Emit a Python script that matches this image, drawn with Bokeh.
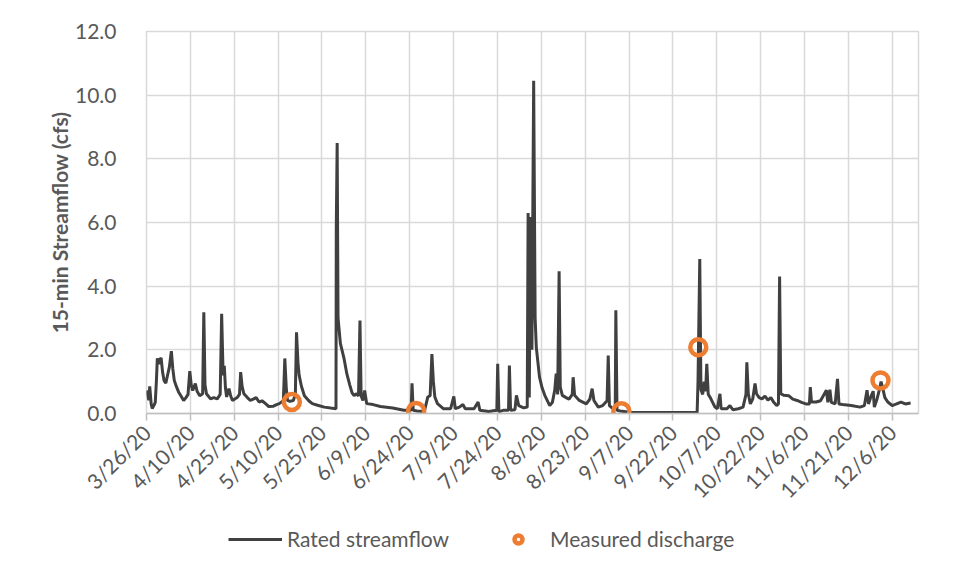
import math
from bokeh.plotting import figure
from bokeh.layouts import column
from bokeh.models import (Range1d, FixedTicker, NumeralTickFormatter, Legend, LegendItem)
from bokeh.embed import file_html
from bokeh.resources import INLINE

# ---- data (days since 3/26/20, streamflow in cfs) ----
DAY = [0.0, 0.5, 0.8, 1.1, 1.6, 1.95, 2.5, 3.0, 3.4, 3.7, 4.2, 4.6, 5.0, 5.5, 6.0, 6.6, 7.2, 7.8,
       8.5, 9.0, 9.5, 10.2, 11.0, 11.8, 12.7, 13.5, 14.2, 14.8, 15.3, 15.8, 16.7, 17.3, 18.2, 19.2,
       19.6, 20.0, 20.5, 21.9, 23.0, 24.2, 25.2, 25.7, 26.2, 26.6, 27.0, 27.4, 28.2, 28.8, 29.4,
       31.0, 31.8, 32.2, 32.7, 33.3, 34.5, 35.5, 36.5, 37.5, 38.5, 39.5, 40.8, 41.8, 43.4, 44.5,
       45.4, 46.8, 47.3, 47.8, 48.2, 49.0, 50.2, 50.9, 51.3, 51.8, 52.2, 53.0, 54.0, 55.5, 56.7,
       58.5, 60.8, 63.0, 64.8, 64.9, 65.2, 65.5, 66.3, 67.5, 68.5, 69.5, 70.3, 71.0, 71.8, 72.5,
       73.0, 73.4, 74.0, 74.6, 75.3, 77.5, 80.0, 84.2, 88.0, 90.5, 90.8, 91.2, 92.5, 95.0, 96.2,
       97.0, 97.6, 98.1, 98.6, 99.5, 101.5, 104.0, 105.1, 105.6, 107.0, 108.2, 109.0, 112.0, 113.4,
       114.0, 117.0, 119.8, 120.1, 120.5, 122.0, 123.8, 124.1, 124.5, 126.0, 126.5, 127.3, 129.0,
       130.2, 130.5, 130.9, 131.3, 131.8, 132.4, 132.9, 133.3, 134.4, 135.3, 136.2, 137.9, 138.8,
       139.6, 140.1, 140.6, 141.1, 141.5, 142.2, 143.5, 144.5, 145.6, 145.9, 146.4, 148.0, 150.4,
       151.6, 152.4, 153.0, 154.5, 156.0, 157.5, 157.9, 158.3, 159.5, 160.3, 160.5, 160.9, 162.0,
       164.6, 166.0, 175.0, 188.3, 188.6, 189.2, 189.6, 190.2, 190.7, 191.2, 191.6, 192.1, 192.8,
       194.4, 195.2, 196.1, 196.5, 198.5, 199.5, 200.5, 202.4, 204.0, 205.0, 205.3, 205.8, 206.5,
       207.3, 208.1, 208.6, 209.5, 210.5, 211.5, 212.5, 213.5, 214.5, 215.5, 216.1, 216.5, 216.9,
       218.0, 219.6, 221.0, 222.5, 224.0, 225.5, 226.7, 227.0, 227.4, 229.0, 230.5, 232.5, 233.0,
       233.7, 234.2, 235.5, 236.3, 236.8, 238.0, 241.0, 244.0, 245.5, 246.4, 246.9, 247.8, 248.5,
       248.9, 249.8, 250.5, 251.2, 251.8, 252.5, 253.5, 255.0, 256.5, 258.0, 259.5, 261.3]
FLOW = [0.72, 0.55, 0.42, 0.85, 0.30, 0.16, 0.25, 0.35, 1.05, 1.73, 1.55, 1.70, 1.75, 1.30, 1.04, 0.95, 1.20, 1.45,
        1.96, 1.40, 1.04, 0.85, 0.67, 0.55, 0.41, 0.50, 0.60, 1.33, 0.90, 0.72, 0.94, 0.70, 0.56, 0.62,
        3.18, 0.90, 0.62, 0.46, 0.50, 0.46, 0.60, 3.13, 1.20, 1.50, 0.80, 0.52, 0.78, 0.55, 0.41,
        0.50, 0.60, 1.30, 0.85, 0.62, 0.50, 0.41, 0.45, 0.50, 0.36, 0.40, 0.30, 0.22, 0.23, 0.28,
        0.31, 0.40, 1.73, 0.80, 0.41, 0.38, 0.41, 0.60, 2.55, 1.60, 1.20, 0.85, 0.56, 0.40, 0.31,
        0.26, 0.20, 0.17, 0.15, 5.80, 8.50, 3.00, 2.20, 1.75, 1.25, 0.90, 0.65, 0.56, 0.62, 0.55,
        2.92, 0.55, 0.41, 0.72, 0.31, 0.28, 0.22, 0.17, 0.10, 0.10, 0.95, 0.10, 0.08, 0.06, 0.52,
        0.56, 1.87, 1.00, 0.52, 0.31, 0.15, 0.15, 0.54, 0.15, 0.20, 0.28, 0.15, 0.15, 0.36,
        0.10, 0.06, 0.10, 1.56, 0.06, 0.10, 0.10, 1.51, 0.10, 0.12, 0.57, 0.25, 0.18,
        0.20, 6.30, 0.50, 6.17, 2.00, 10.45, 3.00, 2.08, 1.14, 0.80, 0.57, 0.25, 0.35,
        0.73, 1.25, 0.60, 4.47, 0.83, 0.57, 0.50, 0.45, 0.60, 1.14, 0.57, 0.41, 0.30,
        0.45, 0.78, 0.41, 0.20, 0.25, 0.40, 1.82, 0.25, 0.15, 0.20, 3.24, 0.10, 0.08,
        0.05, 0.03, 0.03, 0.03, 1.00, 4.85, 0.75, 0.60, 1.00, 0.70, 1.56, 0.60, 0.50,
        0.20, 0.15, 0.62, 0.15, 0.15, 0.25, 0.12, 0.15, 0.20, 0.60, 1.61, 0.62, 0.30,
        0.45, 0.94, 0.62, 0.50, 0.46, 0.55, 0.42, 0.50, 0.35, 0.25, 0.30, 4.30, 0.62,
        0.57, 0.56, 0.45, 0.41, 0.35, 0.30, 0.30, 0.83, 0.36, 0.36, 0.40, 0.73, 0.35,
        0.75, 0.35, 0.30, 1.09, 0.30, 0.28, 0.25, 0.20, 0.25, 0.73, 0.30, 0.55, 0.70,
        0.20, 0.45, 0.70, 1.00, 0.78, 0.50, 0.36, 0.25, 0.30, 0.36, 0.30, 0.33]

MEAS_DAY = [49.7, 92.2, 162.4, 188.7, 251.0]
MEAS_Q = [0.36, 0.08, 0.07, 2.08, 1.04]

TICK_DAYS = [0, 15, 30, 45, 60, 75, 90, 105, 120, 135, 150, 165, 180, 195, 210, 225, 240, 255]
TICK_LABELS = ["3/26/20", "4/10/20", "4/25/20", "5/10/20", "5/25/20", "6/9/20", "6/24/20",
               "7/9/20", "7/24/20", "8/8/20", "8/23/20", "9/7/20", "9/22/20", "10/7/20",
               "10/22/20", "11/6/20", "11/21/20", "12/6/20"]
Y_TICKS = [0, 2, 4, 6, 8, 10, 12]

FONT = "Lato"
TXT = "#595959"
GRID = "#d9d9d9"
LINE_COLOR = "#404040"
MARK_COLOR = "#ED7D31"

p = figure(frame_width=772, frame_height=382, output_backend="svg", toolbar_location=None,
           x_range=Range1d(0, 264), y_range=Range1d(0, 12),
           min_border_left=146, min_border_right=28, min_border_top=31, min_border_bottom=110)
p.background_fill_color = "white"
p.border_fill_color = "white"
p.outline_line_color = GRID
p.outline_line_width = 1.5

line = p.line(DAY, FLOW, line_color=LINE_COLOR, line_width=3)
pts = p.scatter(MEAS_DAY, MEAS_Q, marker="circle", size=16, fill_color=None,
                line_color=MARK_COLOR, line_width=4.5)

p.xaxis.ticker = FixedTicker(ticks=TICK_DAYS)
p.xaxis.major_label_overrides = {d: l for d, l in zip(TICK_DAYS, TICK_LABELS)}
p.xaxis.major_label_orientation = math.pi / 4
p.xaxis.axis_line_color = "#bfbfbf"
p.xaxis.axis_line_width = 1.5
p.xaxis.major_tick_line_color = "#bfbfbf"
p.xaxis.major_tick_line_width = 1.5
p.xaxis.major_tick_out = 7
p.xaxis.major_tick_in = 0
p.xaxis.minor_tick_line_color = None
p.xaxis.major_label_text_font = FONT
p.xaxis.major_label_text_font_size = "21px"
p.xaxis.major_label_text_color = TXT
p.xaxis.major_label_standoff = 8

p.yaxis.ticker = FixedTicker(ticks=Y_TICKS)
p.yaxis.formatter = NumeralTickFormatter(format="0.0")
p.yaxis.axis_line_color = None
p.yaxis.major_tick_line_color = None
p.yaxis.minor_tick_line_color = None
p.yaxis.major_label_text_font = FONT
p.yaxis.major_label_text_font_size = "21px"
p.yaxis.major_label_text_color = TXT
p.yaxis.major_label_standoff = 24
p.yaxis.axis_label = "15-min Streamflow (cfs)"
p.yaxis.axis_label_text_font = FONT
p.yaxis.axis_label_text_font_style = "bold"
p.yaxis.axis_label_text_font_size = "21px"
p.yaxis.axis_label_text_color = TXT
p.yaxis.axis_label_standoff = 0

p.xgrid.ticker = FixedTicker(ticks=TICK_DAYS)
p.ygrid.ticker = FixedTicker(ticks=Y_TICKS)
for g in (p.xgrid, p.ygrid):
    g.grid_line_color = GRID
    g.grid_line_width = 1.5

# legend strip below the chart: same series, drawn out of view, only supply the legend swatches
lg = figure(width=946, height=40, output_backend="svg", toolbar_location=None,
            x_range=Range1d(0, 264), y_range=Range1d(100, 101), min_border=0)
lg.axis.visible = False
lg.grid.visible = False
lg.outline_line_color = None
lg.background_fill_color = "white"
lg.border_fill_color = "white"
sw_line = lg.line(DAY, FLOW, line_color=LINE_COLOR, line_width=3)
sw_pts = lg.scatter(MEAS_DAY, MEAS_Q, marker="circle", size=16, fill_color=None,
                    line_color=MARK_COLOR, line_width=4.5)
legend = Legend(items=[LegendItem(label="Rated streamflow", renderers=[sw_line]),
                       LegendItem(label="Measured discharge", renderers=[sw_pts])],
                orientation="horizontal", location=(82, 12),
                border_line_color=None, background_fill_alpha=0,
                label_text_font=FONT, label_text_font_size="21px", label_text_color=TXT,
                glyph_width=54, glyph_height=20, spacing=42, label_standoff=5,
                padding=0, margin=0)
lg.add_layout(legend, "center")

layout = column(p, lg, spacing=0)
open("out.html", "w").write(file_html(layout, INLINE))
